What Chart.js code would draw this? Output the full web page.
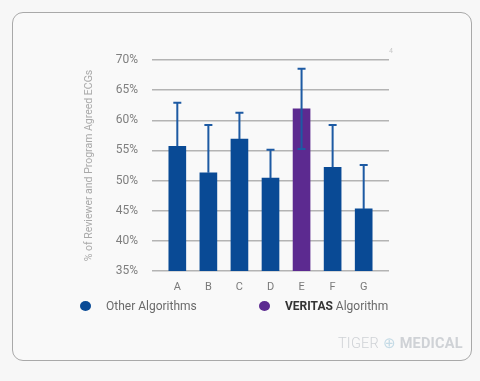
<!DOCTYPE html>
<html>
<head>
<meta charset="utf-8">
<script src="https://cdn.jsdelivr.net/npm/chart.js@4/dist/chart.umd.min.js"></script>
<style>
  html, body { margin: 0; padding: 0; background: #f7f7f7; }
  #wrap { position: relative; width: 480px; height: 381px; overflow: hidden; font-family: Roboto, "Open Sans", sans-serif; }
  #card { position: absolute; left: 12px; top: 12px; width: 458px; height: 347px; border: 1.5px solid #a9a9a9; border-radius: 11px; background: #f9f9f9; }
  #c { position: absolute; left: 0; top: 0; }
  .leg { position: absolute; font-size: 12px; color: #6a6a6a; line-height: 14px; white-space: nowrap; }
  .dot { position: absolute; width: 11px; height: 10px; border-radius: 50%; }
  .wm { position: absolute; left: 338px; top: 335px; font-size: 14.5px; color: #cfd2d6; letter-spacing: 0.2px; white-space: nowrap; }
  .fn { position: absolute; left: 389px; top: 47px; font-size: 7px; color: #c8c8c8; }
</style>
</head>
<body>
<div id="wrap">
  <div id="card"></div>
  <canvas id="c" width="480" height="381"></canvas>
  <div class="fn">4</div>
  <div class="dot" style="left:80px; top:301px; background:#094a95;"></div>
  <div class="leg" style="left:106px; top:299px;">Other Algorithms</div>
  <div class="dot" style="left:259px; top:301px; background:#5c2a90;"></div>
  <div class="leg" style="left:285px; top:299px;"><b style="color:#333; font-weight:700;">VERITAS</b> Algorithm</div>
  <div class="wm"><span style="font-weight:300;">TIGER</span> <span style="color:#c5dbe6;">⊕</span> <span style="font-weight:700;">MEDICAL</span></div>
</div>
<script>
const categories = ['A', 'B', 'C', 'D', 'E', 'F', 'G'];
const agreedPct = [55.7, 51.3, 56.9, 50.4, 61.9, 52.2, 45.3];
const errorPct = [7.2, 7.9, 4.35, 4.7, 6.65, 7.0, 7.3];
const isVeritas = [false, false, false, false, true, false, false];
const yTicks = [35, 40, 45, 50, 55, 60, 65, 70];

const BLUE = '#094a95';
const PURPLE = '#5c2a90';
const ERR = '#1d5aa3';

const errorBars = {
  id: 'errorBars',
  afterDatasetsDraw(chart) {
    const ctx = chart.ctx;
    const xs = chart.scales.x, ys = chart.scales.y;
    ctx.save();
    ctx.strokeStyle = ERR;
    ctx.lineWidth = 2;
    agreedPct.forEach((v, i) => {
      const x = xs.getPixelForValue(i);
      const yMid = ys.getPixelForValue(v);
      const yTop = ys.getPixelForValue(v + errorPct[i]);
      const yBot = ys.getPixelForValue(v - errorPct[i]);
      ctx.beginPath();
      ctx.moveTo(x, yMid); ctx.lineTo(x, yTop);
      ctx.moveTo(x - 4, yTop); ctx.lineTo(x + 4, yTop);
      if (isVeritas[i]) {
        ctx.moveTo(x, yMid); ctx.lineTo(x, yBot);
        ctx.moveTo(x - 4, yBot); ctx.lineTo(x + 4, yBot);
      }
      ctx.stroke();
    });
    ctx.restore();
  }
};

new Chart(document.getElementById('c'), {
  type: 'bar',
  data: {
    datasets: [{
      data: categories.map((c, i) => ({ x: i, y: agreedPct[i] })),
      backgroundColor: isVeritas.map(v => v ? PURPLE : BLUE),
      borderWidth: 0,
      barThickness: 17
    }]
  },
  options: {
    responsive: false,
    animation: false,
    devicePixelRatio: 1,
    layout: { padding: { left: 80, right: 91, top: 60, bottom: 85 } },
    plugins: { legend: { display: false }, tooltip: { enabled: false } },
    scales: {
      x: {
        type: 'linear',
        offset: false,
        min: -0.815,
        max: 6.815,
        afterBuildTicks: s => { s.ticks = categories.map((c, i) => ({ value: i })); },
        afterFit: s => { s.height = 25; },
        grid: { display: false },
        border: { display: false },
        ticks: {
          padding: 2,
          autoSkip: false,
          maxRotation: 0,
          color: '#7a7a7a',
          font: { family: 'Roboto', size: 11 },
          callback: v => categories[v] ?? ''
        }
      },
      y: {
        min: 35,
        max: 70,
        afterBuildTicks: s => { s.ticks = yTicks.map(v => ({ value: v })); },
        afterFit: s => { s.width = 72; },
        grid: { color: '#b4b4b4', lineWidth: 1.5, drawTicks: false },
        border: { display: false },
        ticks: {
          padding: 14,
          color: '#7f7f7f',
          font: { family: 'Roboto', size: 12 },
          callback: v => v + '%'
        },
        title: {
          display: true,
          text: '% of Reviewer and Program Agreed ECGs',
          color: '#a9a9a9',
          padding: { top: 3, bottom: 0 },
          font: { family: 'Roboto', size: 10.5 }
        }
      }
    }
  },
  plugins: [errorBars]
});
</script>
</body>
</html>
